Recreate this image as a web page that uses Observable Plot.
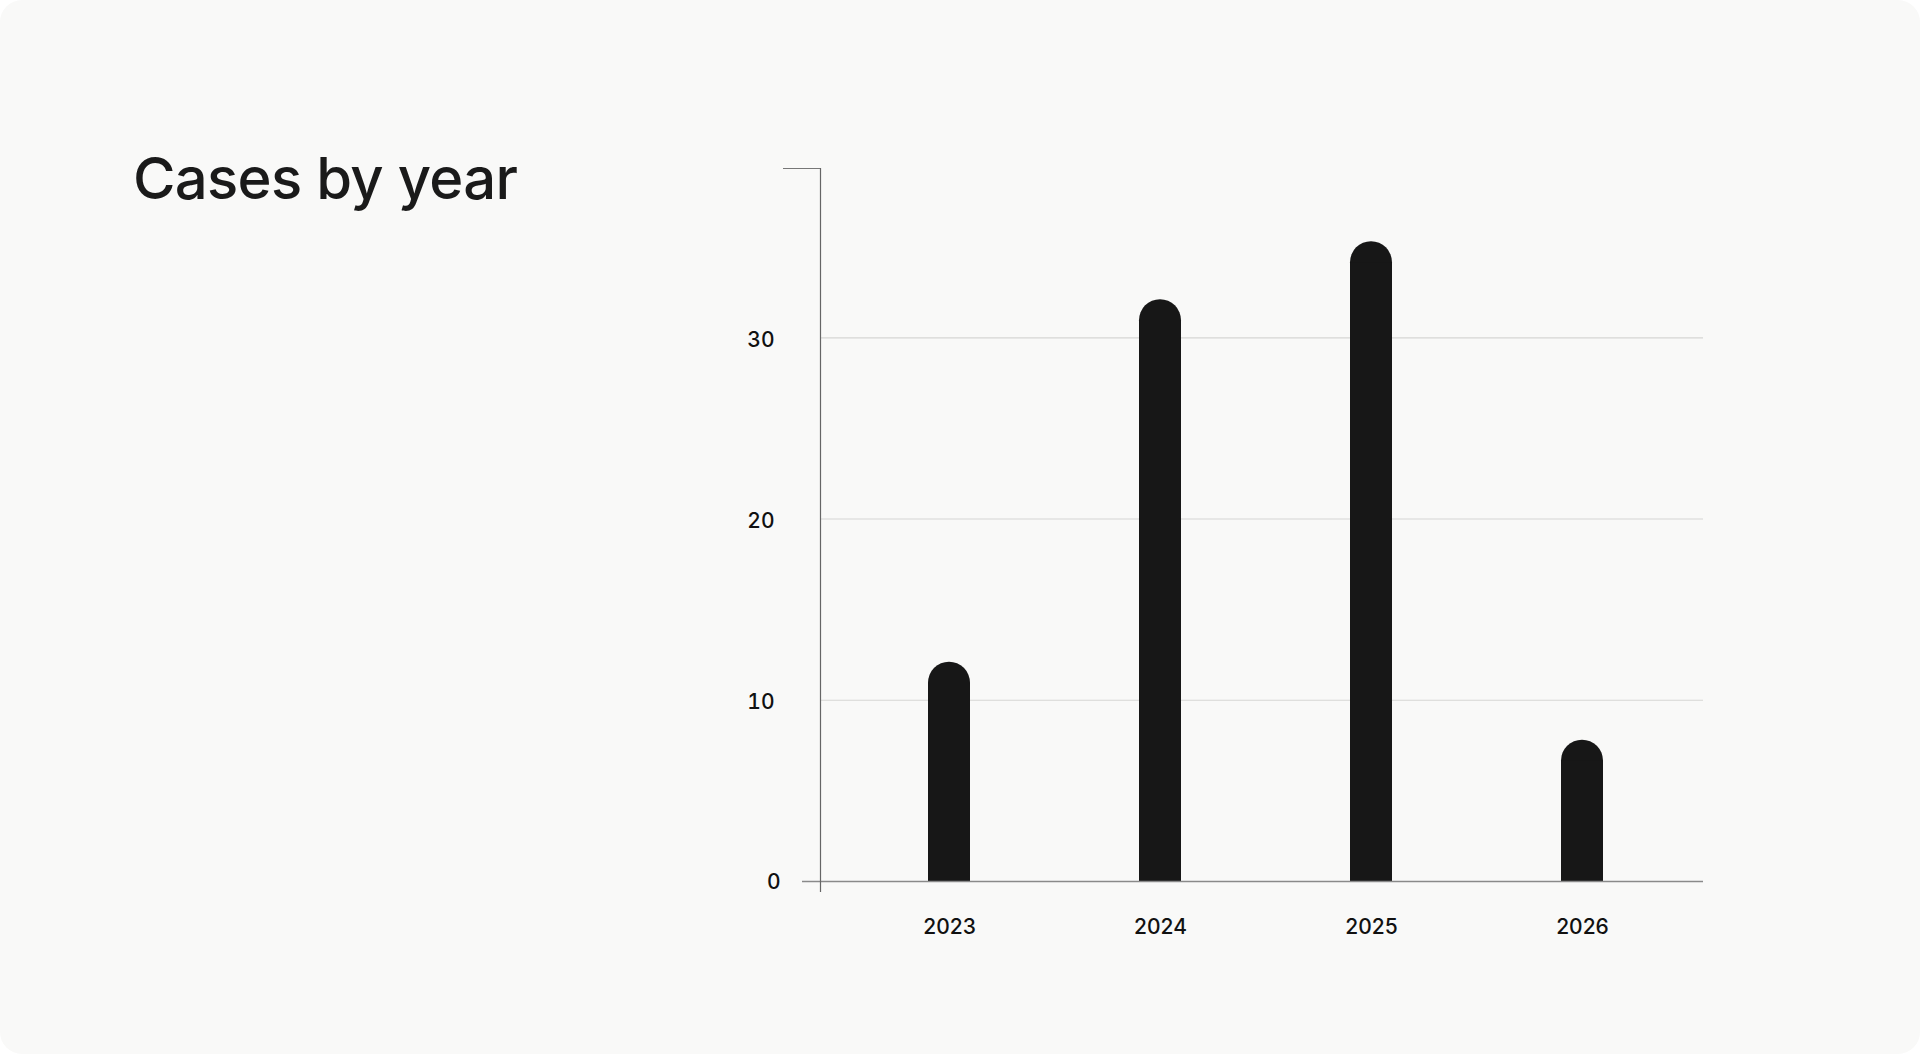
<!DOCTYPE html>
<html>
<head>
<meta charset="utf-8">
<script src="https://cdn.jsdelivr.net/npm/d3@7"></script>
<script src="https://cdn.jsdelivr.net/npm/@observablehq/plot@0.6"></script>
<style>
  html, body { margin: 0; padding: 0; background: #ffffff; }
  #card {
    position: relative;
    width: 1920px; height: 1054px;
    background: #f9f9f8;
    border-radius: 22px;
    overflow: hidden;
  }
  #title {
    position: absolute;
    left: 133px; top: 140px;
    font-family: Inter, "Noto Sans", sans-serif;
    font-size: 58px;
    font-weight: 500;
    letter-spacing: -0.7px;
    color: #1a1a1a;
    line-height: 76px;
    margin: 0;
  }
  #chart { position: absolute; left: 0; top: 0; }
  #chart svg text { font-weight: 500; }
</style>
</head>
<body>
<div id="card">
  <h1 id="title">Cases by year</h1>
  <div id="chart"></div>
</div>
<script>
const years = ["2023", "2024", "2025", "2026"];
const cases = [12.1, 32.1, 35.3, 7.8];
const yTicks = [10, 20, 30];
const yMax = 39.34;

const data = years.map((year, i) => ({year, cases: cases[i]}));

const chart = Plot.plot({
  width: 1920,
  height: 1054,
  marginLeft: 820,
  marginRight: 217,
  marginTop: 168,
  marginBottom: 173,
  style: {background: "transparent", fontFamily: "Inter, 'Noto Sans', sans-serif", color: "#111"},
  x: {domain: years, paddingInner: 0.8, paddingOuter: 0.483, align: 0.52, label: null},
  y: {domain: [0, yMax], label: null},
  marks: [
    Plot.ruleY(yTicks, {stroke: "#d6d6d4", strokeWidth: 1.2}),
    Plot.barY(data, {x: "year", y: "cases", fill: "#171717", rx: 21}),
    Plot.barY(data, {x: "year", y: "cases", fill: "#171717", insetTop: 21}),
    Plot.ruleY([0], {stroke: "#8a8a8a", strokeWidth: 1.6, insetLeft: -18}),
    Plot.frame({anchor: "left", stroke: "#666", strokeWidth: 1.2, insetBottom: -10}),
    Plot.axisY({ticks: [yMax], tickSize: 37, tickFormat: () => "", stroke: "#777"}),
    Plot.axisY({ticks: yTicks, tickSize: 0, tickPadding: 46, dy: 2, fontSize: 21, fill: "#111"}),
    Plot.axisY({ticks: [0], tickSize: 0, tickPadding: 40, dy: 1, fontSize: 21, fill: "#111"}),
    Plot.axisX({tickSize: 0, tickPadding: 38, fontSize: 21, fill: "#111"})
  ]
});
document.getElementById("chart").appendChild(chart);
</script>
</body>
</html>
